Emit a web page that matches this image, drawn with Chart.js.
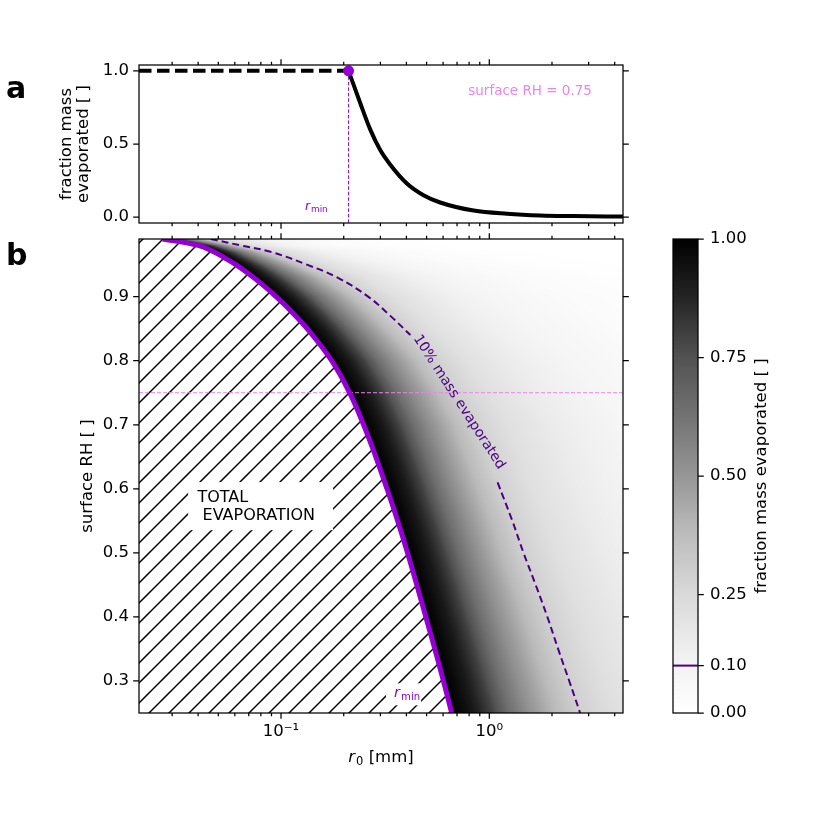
<!DOCTYPE html>
<html>
<head>
<meta charset="utf-8">
<script src="https://cdn.jsdelivr.net/npm/chart.js@4.4.1/dist/chart.umd.min.js"></script>
<style>
  body { margin: 0; background: #fff; }
  #wrap { position: relative; width: 830px; height: 826px; }
  #wrap canvas { position: absolute; left: 0; top: 0; }
</style>
</head>
<body>
<div id="wrap">
  <canvas id="panel-a" width="830" height="826"></canvas>
  <canvas id="panel-b" width="830" height="826"></canvas>
  <canvas id="cbar" width="830" height="826"></canvas>
</div>
<script>
// ---- values ----

// panel a: fraction of mass evaporated against initial radius (surface RH = 0.75)
var r0Profile = [0.211, 0.240, 0.268, 0.299, 0.334, 0.402, 0.483, 0.581, 0.841, 1.216, 1.76, 2.54, 4.4];
var fracProfile = [1.0, 0.78, 0.60, 0.46, 0.36, 0.23, 0.15, 0.10, 0.045, 0.023, 0.011, 0.007, 0.004];
var surfaceRH = 0.75;
var rMinAtRH = 0.211;

// panel b: total evaporation boundary r_min (purple curve)
var rhMin = [0.99, 0.98, 0.97, 0.96, 0.95, 0.94, 0.92, 0.90, 0.88, 0.85, 0.80, 0.75, 0.70, 0.65, 0.60, 0.55, 0.50, 0.45, 0.40, 0.35, 0.30, 0.25];
var rMin = [0.027, 0.040, 0.0475, 0.054, 0.0607, 0.067, 0.0806, 0.0947, 0.1097, 0.1335, 0.175, 0.2133, 0.2491, 0.2851, 0.3227, 0.3629, 0.4048, 0.4485, 0.4955, 0.5474, 0.6020, 0.6600];

// panel b: 10% mass evaporated contour (dashed), broken where the label sits
var contourLevel = 0.10;
var rh10 = [0.99, 0.98, 0.97, 0.95, 0.93, 0.90, 0.87, 0.84, 0.80, 0.75, 0.70, 0.65, 0.61, 0.55, 0.50, 0.45, 0.40, 0.35, 0.30, 0.25];
var r10 = [0.046, 0.064, 0.089, 0.133, 0.186, 0.262, 0.335, 0.418, 0.549, 0.70, 0.857, 0.99, 1.096, 1.29, 1.46, 1.67, 1.90, 2.14, 2.42, 2.73];
var labelGap = [0.61, 0.84];

// panel b shading, read along rows: position between r_min (0) and the dashed contour (1) -> shade value
var shadeT = [0, 0.08, 0.17, 0.31, 0.45, 0.60, 0.80, 1.00, 1.30, 1.70, 2.30, 3.20, 4.50, 6.00];
var shadeF = [1.0, 0.97, 0.92, 0.80, 0.64, 0.52, 0.39, 0.29, 0.21, 0.15, 0.08, 0.035, 0.01, 0.0];

// ticks
var xMajorTicks = [0.1, 1];
var xTickLabels = ['10\u207B\u00B9', '10\u2070'];
var xMinorTicks = [0.03, 0.04, 0.05, 0.06, 0.07, 0.08, 0.09, 0.2, 0.3, 0.4, 0.5, 0.6, 0.7, 0.8, 0.9, 2, 3, 4];
var yTicksA = [0, 0.5, 1.0];
var yTicksB = [0.3, 0.4, 0.5, 0.6, 0.7, 0.8, 0.9];
var cbarTicks = [0, 0.10, 0.25, 0.50, 0.75, 1.00];

// axis ranges
var X_MIN = 0.0208, X_MAX = 4.385;
var YA_MIN = -0.04, YA_MAX = 1.04;
var YB_MIN = 0.25, YB_MAX = 0.99;

// ---- styling ----
var FONT = 'DejaVu Sans';
var DARKVIOLET = '#9400d3', INDIGO = '#4b0082', VIOLET = '#ee82ee';
var MAJOR_LEN = 5.8, MINOR_LEN = 3.3;
// matplotlib "Greys"
var greysStops = [255, 240, 217, 189, 150, 115, 82, 37, 0];

Chart.defaults.font.family = FONT;
Chart.defaults.font.size = 16.5;
Chart.defaults.color = '#000';
Chart.defaults.animation = false;
Chart.defaults.responsive = false;
Chart.defaults.devicePixelRatio = 1;
Chart.defaults.plugins.legend.display = false;
Chart.defaults.plugins.tooltip.enabled = false;

function greys(f) {
  f = Math.max(0, Math.min(1, f));
  var p = f * 8, i = Math.min(7, Math.floor(p)), u = p - i;
  return greysStops[i] + (greysStops[i + 1] - greysStops[i]) * u;
}

// linear interpolation on a table whose keys may run either way
function interp(keys, vals, k) {
  var n = keys.length, asc = keys[n - 1] > keys[0];
  for (var i = 0; i < n - 1; i++) {
    var a = keys[i], b = keys[i + 1];
    var inside = asc ? (k >= a && k <= b) : (k <= a && k >= b);
    if (inside) return vals[i] + (vals[i + 1] - vals[i]) * (k - a) / (b - a);
  }
  var first = asc ? k < keys[0] : k > keys[0];
  return first ? vals[0] : vals[n - 1];
}

function pts(xs, ys) { return xs.map(function (x, i) { return { x: x, y: ys[i] }; }); }

function drawFrame(chart, cfg) {
  var ctx = chart.ctx, a = chart.chartArea;
  ctx.save();
  ctx.strokeStyle = '#000';
  ctx.lineWidth = 1.25;
  ctx.beginPath();
  function xt(list, len) {
    list.forEach(function (v) {
      var p = chart.scales.x.getPixelForValue(v);
      if (p < a.left - 0.5 || p > a.right + 0.5) return;
      if (cfg.bottom) { ctx.moveTo(p, a.bottom); ctx.lineTo(p, a.bottom + len); }
      if (cfg.top) { ctx.moveTo(p, a.top); ctx.lineTo(p, a.top - len); }
    });
  }
  function yt(list, len) {
    list.forEach(function (v) {
      var p = chart.scales.y.getPixelForValue(v);
      if (cfg.left) { ctx.moveTo(a.left, p); ctx.lineTo(a.left - len, p); }
      if (cfg.right) { ctx.moveTo(a.right, p); ctx.lineTo(a.right + len, p); }
    });
  }
  if (cfg.xMajor) xt(cfg.xMajor, MAJOR_LEN);
  if (cfg.xMinor) xt(cfg.xMinor, MINOR_LEN);
  if (cfg.yMajor) yt(cfg.yMajor, MAJOR_LEN);
  ctx.stroke();
  ctx.strokeRect(a.left, a.top, a.right - a.left, a.bottom - a.top);
  ctx.restore();
}

// italic r with a subscript, as matplotlib mathtext draws r_min / r_0
function drawSubR(ctx, x, y, size, sub, color, align) {
  ctx.save();
  ctx.fillStyle = color;
  ctx.textBaseline = 'alphabetic';
  ctx.textAlign = 'left';
  ctx.font = 'italic ' + size + 'px ' + FONT;
  var wr = ctx.measureText('r').width;
  ctx.font = (size * 0.7).toFixed(1) + 'px ' + FONT;
  var ws = ctx.measureText(sub.main).width;
  var total = wr + 1 + ws;
  ctx.font = size + 'px ' + FONT;
  var wt = sub.tail ? ctx.measureText(sub.tail).width : 0;
  total += wt;
  var x0 = align === 'center' ? x - total / 2 : x;
  ctx.font = 'italic ' + size + 'px ' + FONT;
  ctx.fillText('r', x0, y);
  ctx.font = (size * 0.7).toFixed(1) + 'px ' + FONT;
  ctx.fillText(sub.main, x0 + wr + 1, y + size * 0.16);
  if (sub.tail) {
    ctx.font = size + 'px ' + FONT;
    ctx.fillText(sub.tail, x0 + wr + 1 + ws, y);
  }
  ctx.restore();
}

function xAxis(showLabels, height) {
  return {
    type: 'logarithmic', position: 'bottom', min: X_MIN, max: X_MAX, bounds: 'data',
    grid: { display: false, drawTicks: false }, border: { display: false },
    ticks: {
      display: showLabels, autoSkip: false, maxRotation: 0, padding: 9,
      callback: function (v) { var i = xMajorTicks.indexOf(v); return i < 0 ? '' : xTickLabels[i]; }
    },
    afterBuildTicks: function (s) { s.ticks = xMajorTicks.map(function (v) { return { value: v }; }); },
    afterFit: function (s) { s.height = height; }
  };
}

// ---------------- panel a ----------------
new Chart(document.getElementById('panel-a'), {
  type: 'line',
  data: {
    datasets: [
      { data: [{ x: rMinAtRH, y: fracProfile[0] }], showLine: false, pointRadius: 5.5,
        pointBackgroundColor: DARKVIOLET, pointBorderWidth: 0, order: 1 },
      { data: pts(r0Profile, fracProfile), borderColor: '#000', borderWidth: 4, pointRadius: 0,
        cubicInterpolationMode: 'monotone', order: 2 },
      { data: [{ x: X_MIN, y: fracProfile[0] }, { x: rMinAtRH, y: fracProfile[0] }], borderColor: '#000',
        borderWidth: 4, borderDash: [12.5, 5.5], pointRadius: 0, order: 3 },
      { data: [{ x: rMinAtRH, y: fracProfile[0] }, { x: rMinAtRH, y: YA_MIN }], borderColor: DARKVIOLET,
        borderWidth: 1, borderDash: [3.5, 2], pointRadius: 0, order: 4 }
    ]
  },
  options: {
    layout: { padding: { top: 65, right: 207, left: 0, bottom: 0 } },
    scales: {
      x: xAxis(false, 603),
      y: {
        type: 'linear', min: YA_MIN, max: YA_MAX, bounds: 'data',
        grid: { display: false, drawTicks: false }, border: { display: false },
        ticks: { padding: 10, callback: function (v) { return v.toFixed(1); } },
        afterBuildTicks: function (s) { s.ticks = yTicksA.map(function (v) { return { value: v }; }); },
        afterFit: function (s) { s.width = 139; },
        title: { display: true, text: ['fraction mass', 'evaporated [ ]'],
                 font: { size: 16.5, lineHeight: 1.02 }, padding: { top: 58, bottom: 0 } }
      }
    }
  },
  plugins: [{
    id: 'panelA',
    afterDatasetsDraw: function (chart) {
      var ctx = chart.ctx, xs = chart.scales.x, ys = chart.scales.y;
      drawFrame(chart, { top: true, bottom: true, left: true, right: true,
                         xMajor: xMajorTicks, xMinor: xMinorTicks, yMajor: yTicksA });
      ctx.save();
      ctx.fillStyle = VIOLET;
      ctx.font = '13.5px ' + FONT;
      ctx.textAlign = 'center';
      ctx.textBaseline = 'alphabetic';
      ctx.fillText('surface RH = ' + surfaceRH.toFixed(2), xs.getPixelForValue(1.57), ys.getPixelForValue(0.838));
      ctx.fillStyle = '#000';
      ctx.font = 'bold 30px ' + FONT;
      ctx.textAlign = 'left';
      ctx.fillText('a', 6, 98);
      ctx.fillText('b', 6, 265);
      ctx.restore();
      drawSubR(ctx, xs.getPixelForValue(0.1303), ys.getPixelForValue(0.052), 12.5, { main: 'min' }, DARKVIOLET, 'left');
    }
  }]
});

// ---------------- panel b ----------------
var logRMin = rMin.map(Math.log10);
var logR10 = r10.map(Math.log10);

function makeHatch() {
  var c = document.createElement('canvas');
  c.width = 20; c.height = 20;
  var g = c.getContext('2d');
  g.strokeStyle = '#000';
  g.lineWidth = 1.5;
  [2, 22].forEach(function (s) {
    g.beginPath(); g.moveTo(s + 6, -6); g.lineTo(-6, s + 6); g.stroke();
  });
  return g.createPattern(c, 'repeat');
}

var hatchPts = [{ x: X_MIN, y: rhMin[0] }].concat(pts(rMin, rhMin));
var upper = [], lower = [];
rh10.forEach(function (rh, i) {
  if (rh >= labelGap[1]) upper.push({ x: r10[i], y: rh });
  if (rh <= labelGap[0]) lower.push({ x: r10[i], y: rh });
});

new Chart(document.getElementById('panel-b'), {
  type: 'line',
  data: {
    datasets: [
      { data: pts(rMin, rhMin), borderColor: DARKVIOLET, borderWidth: 5, pointRadius: 0,
        tension: 0.4, order: 1 },
      { data: upper, borderColor: INDIGO, borderWidth: 2, borderDash: [7, 4], pointRadius: 0,
        tension: 0.4, order: 3 },
      { data: lower, borderColor: INDIGO, borderWidth: 2, borderDash: [7, 4], pointRadius: 0,
        tension: 0.4, order: 3 },
      { data: [{ x: X_MIN, y: surfaceRH }, { x: X_MAX, y: surfaceRH }], borderColor: VIOLET,
        borderWidth: 1, borderDash: [4, 2], pointRadius: 0, order: 5 },
      { data: hatchPts, borderWidth: 0, borderColor: 'rgba(0,0,0,0)', pointRadius: 0, fill: 'start',
        backgroundColor: makeHatch(), tension: 0.4, order: 6 }
    ]
  },
  options: {
    layout: { padding: { top: 239, right: 207, left: 0, bottom: 0 } },
    scales: {
      x: xAxis(true, 113),
      y: {
        type: 'linear', min: YB_MIN, max: YB_MAX, bounds: 'data',
        grid: { display: false, drawTicks: false }, border: { display: false },
        ticks: { padding: 10, callback: function (v) { return v.toFixed(1); } },
        afterBuildTicks: function (s) { s.ticks = yTicksB.map(function (v) { return { value: v }; }); },
        afterFit: function (s) { s.width = 139; },
        title: { display: true, text: 'surface RH [ ]', font: { size: 16.5, lineHeight: 1.02 },
                 padding: { top: 79, bottom: 0 } }
      }
    }
  },
  plugins: [{
    id: 'panelB',
    beforeDatasetsDraw: function (chart) {
      var a = chart.chartArea, xs = chart.scales.x, ys = chart.scales.y, ctx = chart.ctx;
      var x0 = Math.round(a.left), y0 = Math.round(a.top);
      var w = Math.round(a.right) - x0, h = Math.round(a.bottom) - y0;
      var img = ctx.createImageData(w, h);
      for (var j = 0; j < h; j++) {
        var rh = ys.getValueForPixel(y0 + j + 0.5);
        var lo = interp(rhMin, logRMin, rh);
        var hi = interp(rh10, logR10, rh);
        for (var i = 0; i < w; i++) {
          var lr = Math.log10(xs.getValueForPixel(x0 + i + 0.5));
          var t = (lr - lo) / (hi - lo);
          var g = t < 0 ? 255 : greys(interp(shadeT, shadeF, t));
          var k = (j * w + i) * 4;
          img.data[k] = img.data[k + 1] = img.data[k + 2] = g;
          img.data[k + 3] = 255;
        }
      }
      ctx.putImageData(img, x0, y0);
    },
    afterDatasetsDraw: function (chart) {
      var ctx = chart.ctx, xs = chart.scales.x, ys = chart.scales.y;
      ctx.save();
      // white boxes behind the annotations
      ctx.fillStyle = '#fff';
      var bx0 = xs.getPixelForValue(0.0358), by0 = ys.getPixelForValue(0.6105);
      var bx1 = xs.getPixelForValue(0.1777), by1 = ys.getPixelForValue(0.5355);
      ctx.fillRect(bx0, by0, bx1 - bx0, by1 - by0);
      var rx = xs.getPixelForValue(0.349), ry = ys.getPixelForValue(0.2745);
      ctx.fillRect(rx - 8, ry - 14, 35, 22);
      ctx.fillStyle = '#000';
      ctx.font = '16px ' + FONT;
      ctx.textAlign = 'left';
      ctx.textBaseline = 'alphabetic';
      var tx = xs.getPixelForValue(0.0397), ty = ys.getPixelForValue(0.58);
      ctx.fillText('TOTAL', tx, ty);
      ctx.fillText(' EVAPORATION', tx, ty + 18.3);
      // contour label
      ctx.fillStyle = INDIGO;
      ctx.font = '14px ' + FONT;
      ctx.textAlign = 'center';
      ctx.textBaseline = 'middle';
      ctx.translate(xs.getPixelForValue(0.715), ys.getPixelForValue(0.7355));
      ctx.rotate(57 * Math.PI / 180);
      ctx.fillText(Math.round(contourLevel * 100) + '% mass evaporated', 0, 0);
      ctx.restore();
      drawSubR(ctx, rx, ry, 14.5, { main: 'min' }, DARKVIOLET, 'left');
      drawFrame(chart, { top: true, bottom: true, left: true, right: true,
                         xMajor: xMajorTicks, xMinor: xMinorTicks, yMajor: yTicksB });
      // x axis title
      drawSubR(ctx, (chart.chartArea.left + chart.chartArea.right) / 2, 762, 16.5,
               { main: '0', tail: ' [mm]' }, '#000', 'center');
    }
  }]
});

// ---------------- colour bar ----------------
new Chart(document.getElementById('cbar'), {
  type: 'scatter',
  data: { datasets: [] },
  options: {
    layout: { padding: { top: 239, left: 673, right: 0, bottom: 113 } },
    scales: {
      x: { display: false, min: 0, max: 1 },
      y: {
        type: 'linear', position: 'right', min: 0, max: 1, bounds: 'data',
        grid: { display: false, drawTicks: false }, border: { display: false },
        ticks: { padding: 12, callback: function (v) { return v.toFixed(2); } },
        afterBuildTicks: function (s) { s.ticks = cbarTicks.map(function (v) { return { value: v }; }); },
        afterFit: function (s) { s.width = 132; }
      }
    }
  },
  plugins: [{
    id: 'colourbar',
    afterDraw: function (chart) {
      var ctx = chart.ctx, a = chart.chartArea, ys = chart.scales.y;
      ctx.save();
      for (var py = Math.floor(a.top); py < Math.ceil(a.bottom); py++) {
        var g = Math.round(greys(ys.getValueForPixel(py + 0.5)));
        ctx.fillStyle = 'rgb(' + g + ',' + g + ',' + g + ')';
        ctx.fillRect(a.left, py, a.right - a.left, 1);
      }
      var lv = ys.getPixelForValue(contourLevel);
      ctx.strokeStyle = INDIGO;
      ctx.lineWidth = 2;
      ctx.beginPath(); ctx.moveTo(a.left, lv); ctx.lineTo(a.right, lv); ctx.stroke();
      ctx.restore();
      drawFrame(chart, { right: true, yMajor: cbarTicks });
      ctx.save();
      ctx.fillStyle = '#000';
      ctx.font = '16.5px ' + FONT;
      ctx.textAlign = 'center';
      ctx.textBaseline = 'middle';
      ctx.translate(762, (a.top + a.bottom) / 2);
      ctx.rotate(-Math.PI / 2);
      ctx.fillText('fraction mass evaporated [ ]', 0, 0);
      ctx.restore();
    }
  }]
});
</script>
</body>
</html>
